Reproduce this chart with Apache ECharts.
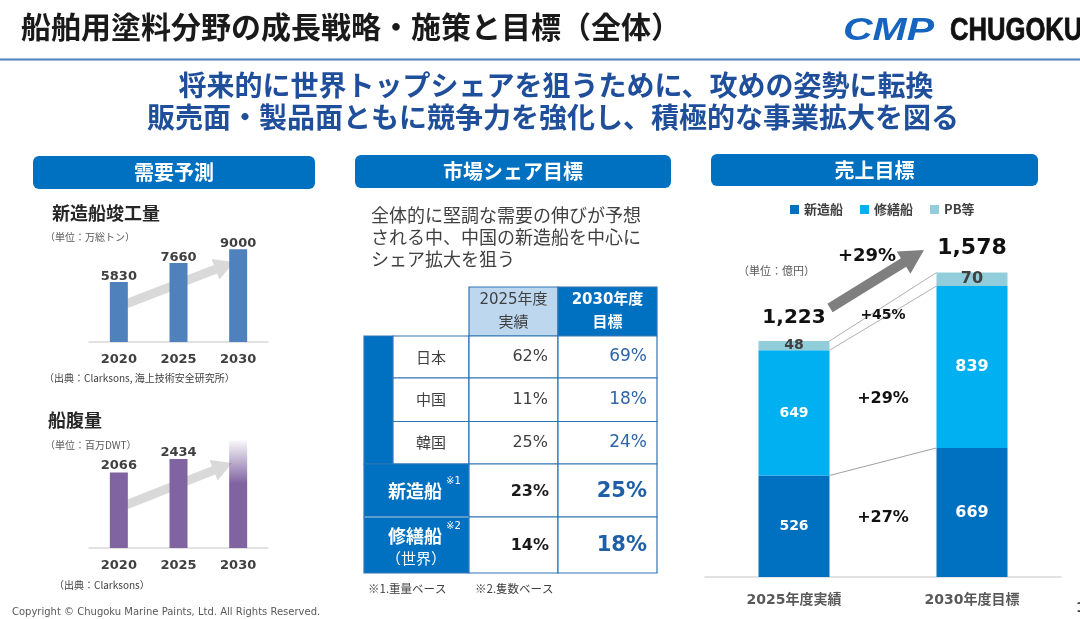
<!DOCTYPE html>
<html>
<head>
<meta charset="utf-8">
<script src="https://cdn.jsdelivr.net/npm/echarts@6/dist/echarts.min.js"></script>
<style>
html,body{margin:0;padding:0;background:#fff;}
#c{width:1080px;height:619px;}
</style>
</head>
<body>
<div id="c"></div>
<script>
// ---------- data ----------
const shipYears = ['2020', '2025', '2030'];
const newbuildTons = [5830, 7660, 9000];      // 新造船竣工量 (万総トン)
const fleetDwt = [2066, 2434, 2950];          // 船腹量 (百万DWT), 2030 unlabeled
const salesCats = ['2025年度実績', '2030年度目標'];
const salesNew = [526, 669];
const salesRepair = [649, 839];
const salesPB = [48, 70];
const growthNew = '+27%';
const growthRepair = '+29%';
const growthPB = '+45%';
const growthTotal = '+29%';
const shareRegions = ['日本', '中国', '韓国'];
const share2025 = [62, 11, 25];
const share2030 = [69, 18, 24];
const shareNewbuild = [23, 25];
const shareRepair = [14, 18];
const descLines = ['全体的に堅調な需要の伸びが予想', 'される中、中国の新造船を中心に', 'シェア拡大を狙う'];

// ---------- style ----------
const CJK = '"Noto Sans CJK JP", sans-serif';
const NUM = '"DejaVu Sans", "Noto Sans CJK JP", sans-serif';
const BLUE = '#0070c0';

const chart = echarts.init(document.getElementById('c'), null, {renderer: 'canvas'});

const fleetData = fleetDwt.map((v, i) => i === 2 ? {
  value: v,
  itemStyle: {color: {type: 'linear', x: 0, y: 0, x2: 0, y2: 1, colorStops: [
    {offset: 0, color: 'rgba(128,100,162,0.04)'},
    {offset: 0.4, color: '#8064a2'},
    {offset: 1, color: '#8064a2'}]}},
  label: {show: false}
} : v);

function big(arr) {
  return arr.map((v, i) => i === 1 ? {value: v, label: {fontSize: 16}} : v);
}

const hiddenY = {type: 'value', min: 0, show: false, splitLine: {show: false}};
const catAxis = (gi, data, margin, fs, col) => ({
  type: 'category', gridIndex: gi, data: data,
  axisTick: {show: false},
  axisLine: {lineStyle: {color: '#d9d9d9', width: 1.5}},
  axisLabel: {margin: margin, fontSize: fs, fontWeight: 'bold', color: col, fontFamily: NUM}
});

chart.setOption({
  animation: false,
  backgroundColor: '#ffffff',
  grid: [
    {left: 89, width: 179, top: 239, height: 103},
    {left: 89, width: 179, top: 431, height: 117},
    {left: 705, width: 356, top: 249, height: 328}
  ],
  xAxis: [
    catAxis(0, shipYears, 11, 13, '#404040'),
    catAxis(1, shipYears, 11, 13, '#404040'),
    catAxis(2, salesCats, 16, 14, '#595959')
  ],
  yAxis: [
    Object.assign({gridIndex: 0, max: 10000}, hiddenY),
    Object.assign({gridIndex: 1, max: 3200}, hiddenY),
    Object.assign({gridIndex: 2, max: 1700}, hiddenY)
  ],
  legend: {
    data: ['新造船', '修繕船', 'PB等'],
    left: 785, top: 198, icon: 'rect', itemWidth: 9, itemHeight: 9, itemGap: 17,
    selectedMode: false,
    textStyle: {fontSize: 13, fontWeight: 'bold', color: '#404040', fontFamily: CJK}
  },
  series: [
    {type: 'bar', xAxisIndex: 0, yAxisIndex: 0, data: newbuildTons, barWidth: 18,
     itemStyle: {color: '#4f81bd'},
     label: {show: true, position: 'top', distance: -1, fontSize: 13, fontWeight: 'bold', color: '#404040', fontFamily: NUM}},
    {type: 'bar', xAxisIndex: 1, yAxisIndex: 1, data: fleetData, barWidth: 18,
     itemStyle: {color: '#8064a2'},
     label: {show: true, position: 'top', distance: 0, fontSize: 13, fontWeight: 'bold', color: '#404040', fontFamily: NUM}},
    {name: '新造船', type: 'bar', stack: 's', xAxisIndex: 2, yAxisIndex: 2, data: big(salesNew), barWidth: 71,
     itemStyle: {color: BLUE},
     label: {show: true, position: 'inside', fontSize: 14, fontWeight: 'bold', color: '#ffffff', fontFamily: NUM}},
    {name: '修繕船', type: 'bar', stack: 's', xAxisIndex: 2, yAxisIndex: 2, data: big(salesRepair), barWidth: 71,
     itemStyle: {color: '#00b0f0'},
     label: {show: true, position: 'inside', fontSize: 14, fontWeight: 'bold', color: '#ffffff', fontFamily: NUM}},
    {name: 'PB等', type: 'bar', stack: 's', xAxisIndex: 2, yAxisIndex: 2, data: big(salesPB), barWidth: 71,
     itemStyle: {color: '#92cddc'},
     label: {show: true, position: 'inside', fontSize: 14, fontWeight: 'bold', color: '#404040', fontFamily: NUM}}
  ]
});

// ---------- graphic helpers ----------
function T(text, x, y, font, fill, align, vAlign, z) {
  return {type: 'text', x: x, y: y, z: z || 20,
    style: {text: text, font: font, fill: fill, textAlign: align || 'left', textVerticalAlign: vAlign || 'middle'}};
}
function R(x, y, w, h, fill, stroke, lw, r) {
  return {type: 'rect', z: 5, shape: {x: x, y: y, width: w, height: h, r: r || 0},
    style: {fill: fill, stroke: stroke || null, lineWidth: lw || 0}};
}
function L(x1, y1, x2, y2, stroke, lw, z) {
  return {type: 'line', z: z || 6, shape: {x1: x1, y1: y1, x2: x2, y2: y2}, style: {stroke: stroke, lineWidth: lw}};
}
function arrow(x1, y1, x2, y2, sw, hw, hl, fill, z) {
  const dx = x2 - x1, dy = y2 - y1, len = Math.sqrt(dx * dx + dy * dy);
  const ux = dx / len, uy = dy / len, nx = -uy, ny = ux;
  const bx = x2 - ux * hl, by = y2 - uy * hl;
  const pts = [
    [x1 + nx * sw / 2, y1 + ny * sw / 2], [bx + nx * sw / 2, by + ny * sw / 2],
    [bx + nx * hw / 2, by + ny * hw / 2], [x2, y2],
    [bx - nx * hw / 2, by - ny * hw / 2], [bx - nx * sw / 2, by - ny * sw / 2],
    [x1 - nx * sw / 2, y1 - ny * sw / 2]];
  return {type: 'polygon', z: z || 0, shape: {points: pts}, style: {fill: fill}};
}
const px = (gi, pt) => chart.convertToPixel({xAxisIndex: gi, yAxisIndex: gi}, pt);

const G = [];
// header
G.push(T('船舶用塗料分野の成長戦略・施策と目標（全体）', 21, 27, 'bold 30px ' + CJK, '#1a1a1a'));
G.push({type: 'text', x: 843, y: 31, z: 20, scaleX: 1.28, style: {text: 'CMP', font: 'italic 900 32px "Liberation Sans", sans-serif', fill: '#1565c0', textAlign: 'left', textVerticalAlign: 'middle'}});
G.push({type: 'text', x: 950, y: 31, z: 20, scaleX: 0.8, style: {text: 'CHUGOKU', font: '900 32px "Liberation Sans", sans-serif', fill: '#111111', textAlign: 'left', textVerticalAlign: 'middle', stroke: '#111111', lineWidth: 0.8}});
G.push(R(0, 58.5, 1080, 2, '#4f7fc0'));
G.push(T('将来的に世界トップシェアを狙うために、攻めの姿勢に転換', 556, 85, 'bold 28px ' + CJK, '#1f4e9a', 'center'));
G.push(T('販売面・製品面ともに競争力を強化し、積極的な事業拡大を図る', 553, 117, 'bold 28px ' + CJK, '#1f4e9a', 'center'));

// section headers
[[33, 156, 282, 33, '需要予測'], [355, 155, 316, 33, '市場シェア目標'], [711, 154, 327, 32, '売上目標']].forEach(b => {
  G.push(R(b[0], b[1], b[2], b[3], BLUE, null, 0, 6));
  G.push(T(b[4], b[0] + b[2] / 2, b[1] + b[3] / 2, 'bold 20px ' + CJK, '#ffffff', 'center'));
});

// left charts texts
G.push(T('新造船竣工量', 52, 213, 'bold 18px ' + CJK, '#262626'));
G.push(T('（単位：万総トン）', 45, 237, '10px ' + CJK, '#595959'));
G.push(T('（出典：Clarksons, 海上技術安全研究所）', 44, 378, '10px ' + CJK, '#404040'));
G.push(T('船腹量', 48, 420, 'bold 18px ' + CJK, '#262626'));
G.push(T('（単位：百万DWT）', 45, 445, '10px ' + CJK, '#595959'));
G.push(T('（出典：Clarksons）', 54, 585, '10px ' + CJK, '#404040'));
G.push(T('Copyright © Chugoku Marine Paints, Ltd. All Rights Reserved.', 12, 612, '10px "DejaVu Sans", sans-serif', '#595959'));
G.push(T('1', 1076, 608, 'bold 14px ' + NUM, '#404040'));

// left arrows (behind bars)
{
  const a = px(0, [0, 3690]), b = px(0, [2, 7760]);
  G.push(arrow(a[0] + 7, a[1], b[0] - 4, b[1], 9, 22, 20, '#d9d9d9', 0));
  const c = px(1, [0, 1176]), d = px(1, [2, 2325]);
  G.push(arrow(c[0] + 7, c[1], d[0] - 6, d[1], 9, 22, 20, '#d9d9d9', 0));
}

// middle: description + table
descLines.forEach((s, i) => G.push(T(s, 371, 215 + i * 22, '18px ' + CJK, '#404040')));
const TB = '#2e75b6';
const rowsY = [336, 378, 421.5, 464, 517, 573];
G.push(R(469, 287, 89, 49, '#bdd7ee', TB, 1.2));
G.push(R(558, 287, 99, 49, BLUE, TB, 1.2));
G.push(T('2025年度', 513.5, 300, '15px ' + NUM, '#404040', 'center'));
G.push(T('実績', 513.5, 321, '15px ' + CJK, '#404040', 'center'));
G.push(T('2030年度', 607.5, 300, 'bold 15px ' + NUM, '#ffffff', 'center'));
G.push(T('目標', 607.5, 321, 'bold 15px ' + CJK, '#ffffff', 'center'));
G.push(R(364, 336, 29, 128, BLUE, TB, 1.2));
shareRegions.forEach((name, i) => {
  const y0 = rowsY[i], h = rowsY[i + 1] - y0, cy = y0 + h / 2;
  G.push(R(393, y0, 76, h, '#ffffff', TB, 1.2));
  G.push(R(469, y0, 89, h, '#ffffff', TB, 1.2));
  G.push(R(558, y0, 99, h, '#ffffff', TB, 1.2));
  G.push(T(name, 431, cy, '15px ' + CJK, '#404040', 'center'));
  G.push(T(share2025[i] + '%', 548, cy, '16px ' + NUM, '#404040', 'right'));
  G.push(T(share2030[i] + '%', 647, cy, '17px ' + NUM, '#2e64a8', 'right'));
});
[[3, '新造船', '※1', null, shareNewbuild], [4, '修繕船', '※2', '（世界）', shareRepair]].forEach(r => {
  const y0 = rowsY[r[0]], h = rowsY[r[0] + 1] - y0, cy = y0 + h / 2;
  G.push(R(364, y0, 105, h, BLUE, TB, 1.2));
  G.push(R(469, y0, 89, h, '#ffffff', TB, 1.2));
  G.push(R(558, y0, 99, h, '#ffffff', TB, 1.2));
  const ly = r[3] ? cy - 9 : cy + 1;
  G.push(T(r[1], 415, ly, 'bold 18px ' + CJK, '#ffffff', 'center'));
  G.push(T(r[2], 446, ly - 10, '10px ' + NUM, '#ffffff'));
  if (r[3]) G.push(T(r[3], 416, cy + 13, '15px ' + CJK, '#ffffff', 'center'));
  G.push(T(r[4][0] + '%', 549, cy + 1, 'bold 16px ' + NUM, '#1a1a1a', 'right'));
  G.push(T(r[4][1] + '%', 647, cy + 1, 'bold 21px ' + NUM, '#1f5fa8', 'right'));
});
G.push(L(364.5, 517, 468.5, 517, '#9dc3e6', 1.2, 7));
G.push(T('※1.重量ベース', 368, 589, '11.5px ' + CJK, '#404040'));
G.push(T('※2.隻数ベース', 475, 589, '11.5px ' + CJK, '#404040'));

// right chart annotations
{
  const HB = 35.5;
  const tot = salesNew.map((v, i) => v + salesRepair[i] + salesPB[i]);
  const fmt = n => n.toLocaleString('en-US');
  const p = i => ({
    c: px(2, [i, 0])[0],
    top: px(2, [i, tot[i]])[1],
    pbBot: px(2, [i, salesNew[i] + salesRepair[i]])[1],
    newTop: px(2, [i, salesNew[i]])[1],
    base: px(2, [i, 0])[1]
  });
  const a = p(0), b = p(1);
  G.push(L(a.c + HB, a.top, b.c - HB, b.top, '#b0b0b0', 1));
  G.push(L(a.c + HB, a.pbBot, b.c - HB, b.pbBot, '#b0b0b0', 1));
  G.push(L(a.c + HB, a.newTop, b.c - HB, b.newTop, '#a0a0a0', 1));
  G.push(T(fmt(tot[0]), a.c, a.top - 23, 'bold 20px ' + NUM, '#111111', 'center'));
  G.push(T(fmt(tot[1]), b.c, b.top - 24, 'bold 22px ' + NUM, '#111111', 'center'));
  const mx = (a.c + b.c) / 2;
  G.push(T(growthPB, mx, (a.top + a.pbBot + b.top + b.pbBot) / 4 + 3, 'bold 14px ' + NUM, '#111111', 'center'));
  G.push(T(growthRepair, mx, (a.pbBot + a.newTop + b.pbBot + b.newTop) / 4 + 9, 'bold 16px ' + NUM, '#111111', 'center'));
  G.push(T(growthNew, mx, (a.newTop + a.base + b.newTop + b.base) / 4 - 2, 'bold 16px ' + NUM, '#111111', 'center'));
  const s = px(2, [0, 1394]), e = px(2, [1, 1695]);
  G.push(arrow(s[0] + 36, s[1], e[0] - 48, e[1], 10, 26, 24, '#7f7f7f', 8));
  G.push(T(growthTotal, mx - 16, px(2, [0, 1664])[1], 'bold 18px ' + NUM, '#111111', 'center'));
  G.push(T('（単位：億円）', 738, 271, '11px ' + CJK, '#595959'));
}

chart.setOption({graphic: {elements: G}});
</script>
</body>
</html>
